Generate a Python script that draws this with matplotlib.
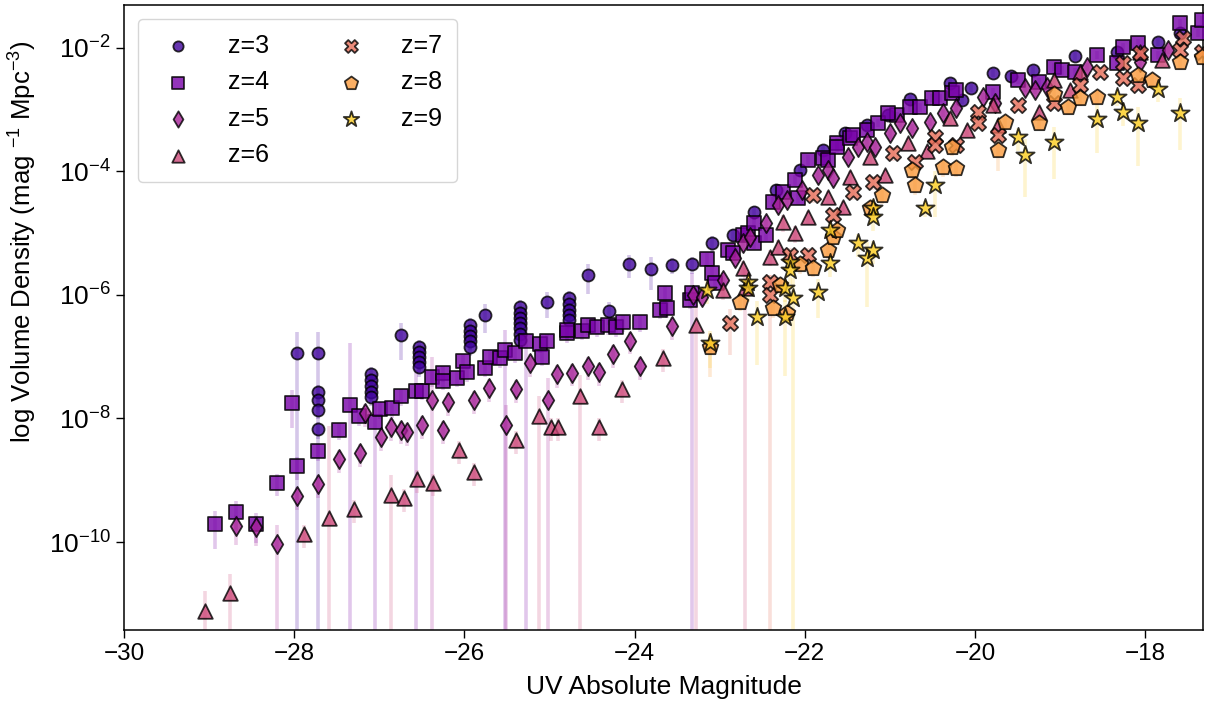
import numpy as np
import matplotlib
matplotlib.use("Agg")
import matplotlib.pyplot as plt
from matplotlib.ticker import NullLocator

plt.rcParams['font.family'] = ['Liberation Sans', 'DejaVu Sans']
plt.rcParams['mathtext.fontset'] = 'custom'
plt.rcParams['mathtext.rm'] = 'Liberation Sans'
plt.rcParams['mathtext.it'] = 'Liberation Sans:italic'

# (UV magnitude, log10 density, relative error) per redshift
z3_points = [(-27.97,-6.94,1.2),(-27.72,-6.94,1.2),(-27.72,-7.57,0.3),(-27.72,-7.70,0.3),(-27.72,-7.86,0.3),(-27.72,-8.17,0.3),
    (-27.10,-7.28,0.3),(-27.10,-7.38,0.3),(-27.10,-7.47,0.3),(-27.10,-7.57,0.3),(-27.10,-7.65,0.3),
    (-26.75,-6.65,0.6),
    (-26.53,-6.84,0.3),(-26.53,-6.92,0.3),(-26.53,-7.00,0.3),(-26.53,-7.09,0.3),(-26.53,-7.17,0.3),
    (-25.93,-6.49,0.3),(-25.93,-6.58,0.3),(-25.93,-6.66,0.3),(-25.93,-6.74,0.3),(-25.93,-6.84,0.3),
    (-25.76,-6.32,0.5),
    (-25.35,-6.19,0.3),(-25.35,-6.29,0.3),(-25.35,-6.37,0.3),(-25.35,-6.45,0.3),(-25.35,-6.53,0.3),(-25.35,-6.63,0.3),(-25.35,-6.73,0.3),
    (-25.03,-6.11,0.45),
    (-24.77,-6.05,0.3),(-24.77,-6.15,0.3),(-24.77,-6.24,0.3),(-24.77,-6.32,0.3),(-24.77,-6.40,0.3),
    (-24.55,-5.68,0.5),(-24.30,-6.26,0.4),(-24.07,-5.50,0.4),(-23.81,-5.58,0.55),(-23.56,-5.51,0.3),(-23.33,-5.50,0.3),
    (-23.09,-5.16,0.3),(-22.84,-5.03,0.25),(-22.60,-4.66,0.25),(-22.34,-4.30,0.2),(-22.06,-3.98,0.2),(-21.79,-3.65,0.2),
    (-21.53,-3.38,0.2),(-21.27,-3.25,0.15),(-21.02,-3.09,0.15),(-20.76,-2.83,0.15),(-20.29,-2.57,0.15),(-20.15,-2.84,0.15),
    (-20.05,-2.65,0.15),(-19.79,-2.40,0.15),(-19.58,-2.45,0.15),(-19.32,-2.36,0.15),(-18.82,-2.13,0.15),(-18.33,-2.06,0.15),
    (-17.85,-1.90,0.15),(-17.59,-1.76,0.15)]

z4_points = [(-28.93,-9.71,0.6),(-28.68,-9.51,0.5),(-28.45,-9.71,0.5),(-28.20,-9.04,0.4),(-27.97,-8.77,0.4),(-27.72,-8.53,0.3),
    (-28.03,-7.75,0.6),(-27.47,-8.19,0.3),(-27.34,-7.78,9.0),(-27.24,-7.96,0.3),(-27.05,-8.06,1.3),(-26.99,-7.85,0.3),
    (-26.85,-7.83,0.3),(-26.75,-7.64,0.3),(-26.57,-7.55,1.2),(-26.50,-7.55,0.3),
    (-26.38,-7.33,0.3),(-26.25,-7.26,0.3),(-26.25,-7.39,0.3),(-26.09,-7.34,0.3),(-26.02,-7.07,0.3),(-25.97,-7.25,0.3),
    (-25.76,-7.18,0.3),(-25.70,-7.00,0.3),(-25.58,-7.02,0.3),(-25.52,-6.89,1.1),(-25.41,-6.94,0.3),(-25.28,-6.74,1.1),
    (-25.11,-6.79,0.3),(-25.09,-7.00,0.3),(-25.03,-6.74,0.3),(-24.79,-6.62,0.3),(-24.79,-6.57,0.3),(-24.62,-6.58,0.3),
    (-24.55,-6.49,0.3),(-24.44,-6.52,0.3),(-24.31,-6.49,0.3),(-24.22,-6.52,0.3),(-24.14,-6.44,0.3),(-23.94,-6.44,0.3),
    (-23.70,-6.24,0.3),(-23.64,-5.97,0.3),(-23.62,-6.21,0.3),(-23.35,-6.08,0.3),(-23.33,-5.97,1.1),
    (-23.15,-5.42,0.25),(-23.09,-5.64,0.25),(-23.06,-5.81,0.25),(-22.90,-5.27,0.25),(-22.84,-5.32,0.25),(-22.73,-5.03,0.25),
    (-22.67,-5.00,0.25),(-22.60,-4.83,0.2),(-22.60,-5.16,0.2),(-22.46,-5.03,0.2),(-22.37,-4.49,0.2),(-22.26,-4.33,0.2),
    (-22.12,-4.14,0.2),(-22.08,-4.43,0.2),(-21.96,-3.81,0.2),(-21.79,-3.78,0.2),(-21.73,-3.81,0.2),(-21.62,-3.54,0.2),
    (-21.62,-3.60,0.2),(-21.47,-3.46,0.15),(-21.43,-3.41,0.15),(-21.27,-3.33,0.15),(-21.14,-3.21,0.15),(-20.92,-3.09,0.15),
    (-21.02,-3.05,0.15),(-20.76,-2.96,0.15),(-20.65,-2.96,0.15),(-20.51,-2.81,0.15),(-20.41,-2.81,0.15),(-20.27,-2.73,0.15),
    (-20.22,-2.68,0.15),(-19.79,-2.71,0.15),(-19.50,-2.52,0.15),(-19.25,-2.55,0.15),(-19.07,-2.31,0.15),(-18.98,-2.36,0.15),
    (-18.82,-2.39,0.15),(-18.57,-2.11,0.15),(-18.33,-2.24,0.15),(-18.26,-1.98,0.15),(-18.08,-1.92,0.15),(-17.85,-2.11,0.15),
    (-17.59,-1.60,0.15),(-17.38,-1.76,0.15),(-17.33,-1.55,0.15)]

z5_points = [(-28.68,-9.74,0.5),(-28.45,-9.76,0.5),(-28.20,-10.03,1.05),(-27.97,-9.26,0.4),(-27.72,-9.06,0.4),(-27.47,-8.66,0.4),
    (-27.23,-8.56,0.4),(-27.17,-7.91,0.4),(-26.98,-8.30,0.4),(-26.86,-8.14,0.4),(-26.75,-8.19,0.4),(-26.67,-8.22,0.4),
    (-26.50,-8.11,0.4),(-26.38,-7.70,4.0),(-26.25,-8.19,0.4),(-26.19,-7.73,0.4),(-25.89,-7.70,0.4),(-25.71,-7.51,0.4),
    (-25.51,-8.11,1.1),(-25.39,-7.52,0.4),(-25.23,-7.10,0.4),(-25.02,-7.70,1.3),(-24.91,-7.28,0.4),(-24.74,-7.26,0.4),
    (-24.55,-7.15,0.4),(-24.42,-7.25,0.4),(-24.25,-6.96,0.4),(-24.05,-6.74,0.4),(-23.94,-7.15,0.4),(-23.56,-6.50,0.4),
    (-23.31,-6.00,0.3),(-23.21,-6.03,0.3),(-22.96,-5.76,0.3),(-22.82,-5.40,0.3),(-22.73,-5.16,0.3),(-22.64,-5.06,0.25),
    (-22.46,-4.83,0.25),(-22.32,-4.54,0.25),(-22.21,-4.46,0.25),(-22.03,-4.30,0.2),(-21.85,-4.06,0.2),(-21.73,-3.98,0.2),
    (-21.67,-4.11,0.2),(-21.49,-3.77,0.2),(-21.37,-3.60,0.2),(-21.27,-3.52,0.2),(-21.18,-3.60,0.2),(-21.00,-3.38,0.2),
    (-20.88,-3.21,0.15),(-20.74,-3.30,0.15),(-20.53,-3.20,0.15),(-20.38,-3.05,0.15),(-20.22,-2.97,0.15),(-19.91,-2.79,0.15),
    (-19.77,-2.89,0.15),(-19.41,-2.65,0.15),(-19.29,-2.68,0.15),(-19.15,-2.63,0.15),(-18.68,-2.31,0.15),(-18.06,-2.23,0.15),
    (-17.73,-2.03,0.15)]

z6_points = [(-29.05,-11.12,1.1),(-28.75,-10.83,1.05),(-27.88,-9.87,0.4),(-27.59,-9.61,30.0),(-27.30,-9.47,0.4),
    (-26.86,-9.24,1.1),(-26.71,-9.29,0.4),(-26.56,-8.98,0.4),(-26.37,-9.04,0.4),(-26.06,-8.51,0.4),(-25.89,-8.87,0.4),
    (-25.39,-8.35,0.4),(-25.12,-7.96,1.1),(-24.98,-8.14,0.4),(-24.90,-8.14,0.4),(-24.64,-7.64,1.2),(-24.42,-8.14,0.4),
    (-24.15,-7.52,0.4),(-23.67,-7.02,0.4),(-23.28,-6.49,1.1),(-22.96,-5.92,0.3),(-22.73,-5.56,0.3),(-22.70,-5.89,1.1),
    (-22.41,-5.38,0.3),(-22.32,-5.22,0.3),(-22.12,-5.00,0.3),(-22.26,-4.82,0.3),(-21.96,-4.74,0.25),(-21.73,-4.41,0.25),
    (-21.55,-4.57,0.25),(-21.47,-4.09,0.25),(-21.23,-3.77,0.2),(-21.06,-4.06,0.2),(-20.79,-3.54,0.2),(-20.56,-3.67,0.2),
    (-20.29,-3.13,0.2),(-20.09,-3.33,0.2),(-19.79,-2.92,0.2),(-19.73,-3.25,0.2),(-19.25,-3.04,0.2),(-19.07,-2.52,0.2),
    (-18.88,-2.68,0.2),(-18.77,-2.39,0.2),(-18.06,-2.06,0.2),(-17.80,-2.19,0.2)]

z7_points = [(-22.88,-6.45,0.7),(-22.41,-5.79,0.3),(-22.41,-6.00,1.1),(-22.17,-5.35,0.3),(-21.96,-5.35,0.3),(-21.90,-4.38,0.25),
    (-21.67,-4.70,0.25),(-21.43,-4.33,0.25),(-21.20,-4.17,0.25),(-20.96,-3.70,0.25),(-20.70,-3.85,0.25),(-20.47,-3.44,0.2),
    (-20.47,-3.57,0.2),(-20.22,-3.57,0.2),(-19.96,-3.04,0.2),(-19.96,-3.21,0.2),(-19.73,-3.41,0.2),(-19.50,-2.92,0.2),
    (-19.07,-2.89,0.2),(-18.77,-2.60,0.15),(-18.53,-2.39,0.15),(-18.26,-2.24,0.15),(-18.26,-2.49,0.15),(-18.08,-2.60,0.15),
    (-18.06,-2.08,0.15),(-17.56,-1.84,0.15),(-17.59,-2.03,0.15),(-17.33,-2.06,0.15)]

z8_points = [(-23.11,-6.84,0.68),(-22.76,-6.11,0.3),(-22.37,-6.21,0.3),(-22.21,-6.29,0.3),(-22.29,-5.84,0.3),(-22.06,-5.50,0.3),
    (-21.90,-5.56,0.3),(-21.73,-5.27,0.3),(-21.67,-5.06,0.3),(-21.62,-4.95,0.3),(-21.23,-4.59,0.3),(-21.09,-4.38,0.3),
    (-20.74,-3.98,0.3),(-20.70,-4.22,0.3),(-20.38,-3.93,0.3),(-20.22,-3.94,0.3),(-20.27,-3.60,0.3),(-19.73,-3.65,0.55),
    (-19.65,-3.20,0.25),(-19.25,-3.21,0.25),(-19.07,-2.74,0.25),(-18.91,-2.96,0.25),(-18.77,-2.81,0.25),(-18.57,-2.79,0.25),
    (-18.08,-2.44,0.25),(-17.92,-2.52,0.25),(-17.59,-2.23,0.25),(-17.33,-2.15,0.25)]

z9_points = [(-23.11,-6.78,0.6),(-23.15,-5.92,0.4),(-22.67,-5.79,0.4),(-22.67,-5.89,0.4),(-22.56,-6.36,0.83),(-22.23,-5.89,0.4),
    (-22.23,-6.36,0.89),(-22.17,-5.47,0.4),(-22.17,-5.60,0.4),(-22.14,-6.05,1.1),(-21.85,-5.95,0.62),(-21.70,-5.48,0.4),
    (-21.70,-4.95,0.4),(-21.37,-5.16,0.4),(-21.27,-5.40,0.84),(-21.20,-5.27,0.4),(-21.20,-4.59,0.4),(-21.20,-4.74,0.4),
    (-20.59,-4.59,0.3),(-20.47,-4.22,0.7),(-19.50,-3.44,0.4),(-19.41,-3.73,0.79),(-19.07,-3.52,0.75),(-18.57,-3.15,0.72),
    (-18.33,-2.79,0.3),(-18.26,-3.04,0.4),(-18.08,-3.21,0.8),(-17.85,-2.66,0.4),(-17.59,-3.05,0.75)]

labels = ['z=3', 'z=4', 'z=5', 'z=6', 'z=7', 'z=8', 'z=9']
all_points = [z3_points, z4_points, z5_points, z6_points, z7_points, z8_points, z9_points]
markers = ['o', 's', 'd', '^', 'X', 'p', '*']
sizes = [75, 95, 95, 110, 120, 140, 190]
colors = plt.cm.plasma(np.linspace(0.1, 0.9, 7))

fig = plt.figure(figsize=(12.07, 7.09), dpi=100)
ax = fig.add_axes([0.1027, 0.1114, 0.894, 0.8816])

for i, pts in enumerate(all_points):
    arr = np.array(pts)
    mag, lphi, rel = arr[:, 0], arr[:, 1], arr[:, 2]
    phi = 10.0 ** lphi
    lo = np.maximum(phi * (1 - rel), 1e-30)
    hi = phi * (1 + rel)
    ax.vlines(mag, lo, hi, color=colors[i], alpha=0.22, lw=2.6, zorder=1)
for i, pts in enumerate(all_points):
    arr = np.array(pts)
    ax.scatter(arr[:, 0], 10.0 ** arr[:, 1], marker=markers[i], s=sizes[i],
               facecolor=colors[i], edgecolor='black', linewidth=1.3, alpha=0.8,
               label=labels[i], zorder=3 + i)

ax.set_yscale('log')
ax.set_xlim(-30, -17.32)
ax.set_ylim(10 ** -11.425, 10 ** -1.304)
ax.set_yticks([1e-10, 1e-8, 1e-6, 1e-4, 1e-2])
ax.yaxis.set_minor_locator(NullLocator())
ax.set_xticks([-30, -28, -26, -24, -22, -20, -18])
ax.tick_params(axis='x', labelsize=17.5, length=6, width=1)
ax.tick_params(axis='y', labelsize=19, length=6, width=1)
ax.set_xlabel('UV Absolute Magnitude', fontsize=19, labelpad=7)
ax.set_ylabel('log Volume Density (mag $^{-1}$ Mpc$^{-3}$)', fontsize=18.5)
ax.yaxis.set_label_coords(-0.079, 0.622)
for sp in ax.spines.values():
    sp.set_linewidth(1.1)

leg = ax.legend(loc='upper left', ncol=2, fontsize=18, handletextpad=1.0,
                columnspacing=2.3, labelspacing=0.5, borderpad=0.6,
                borderaxespad=0.55, markerscale=0.85)
fig.savefig('out.png', dpi=100)
